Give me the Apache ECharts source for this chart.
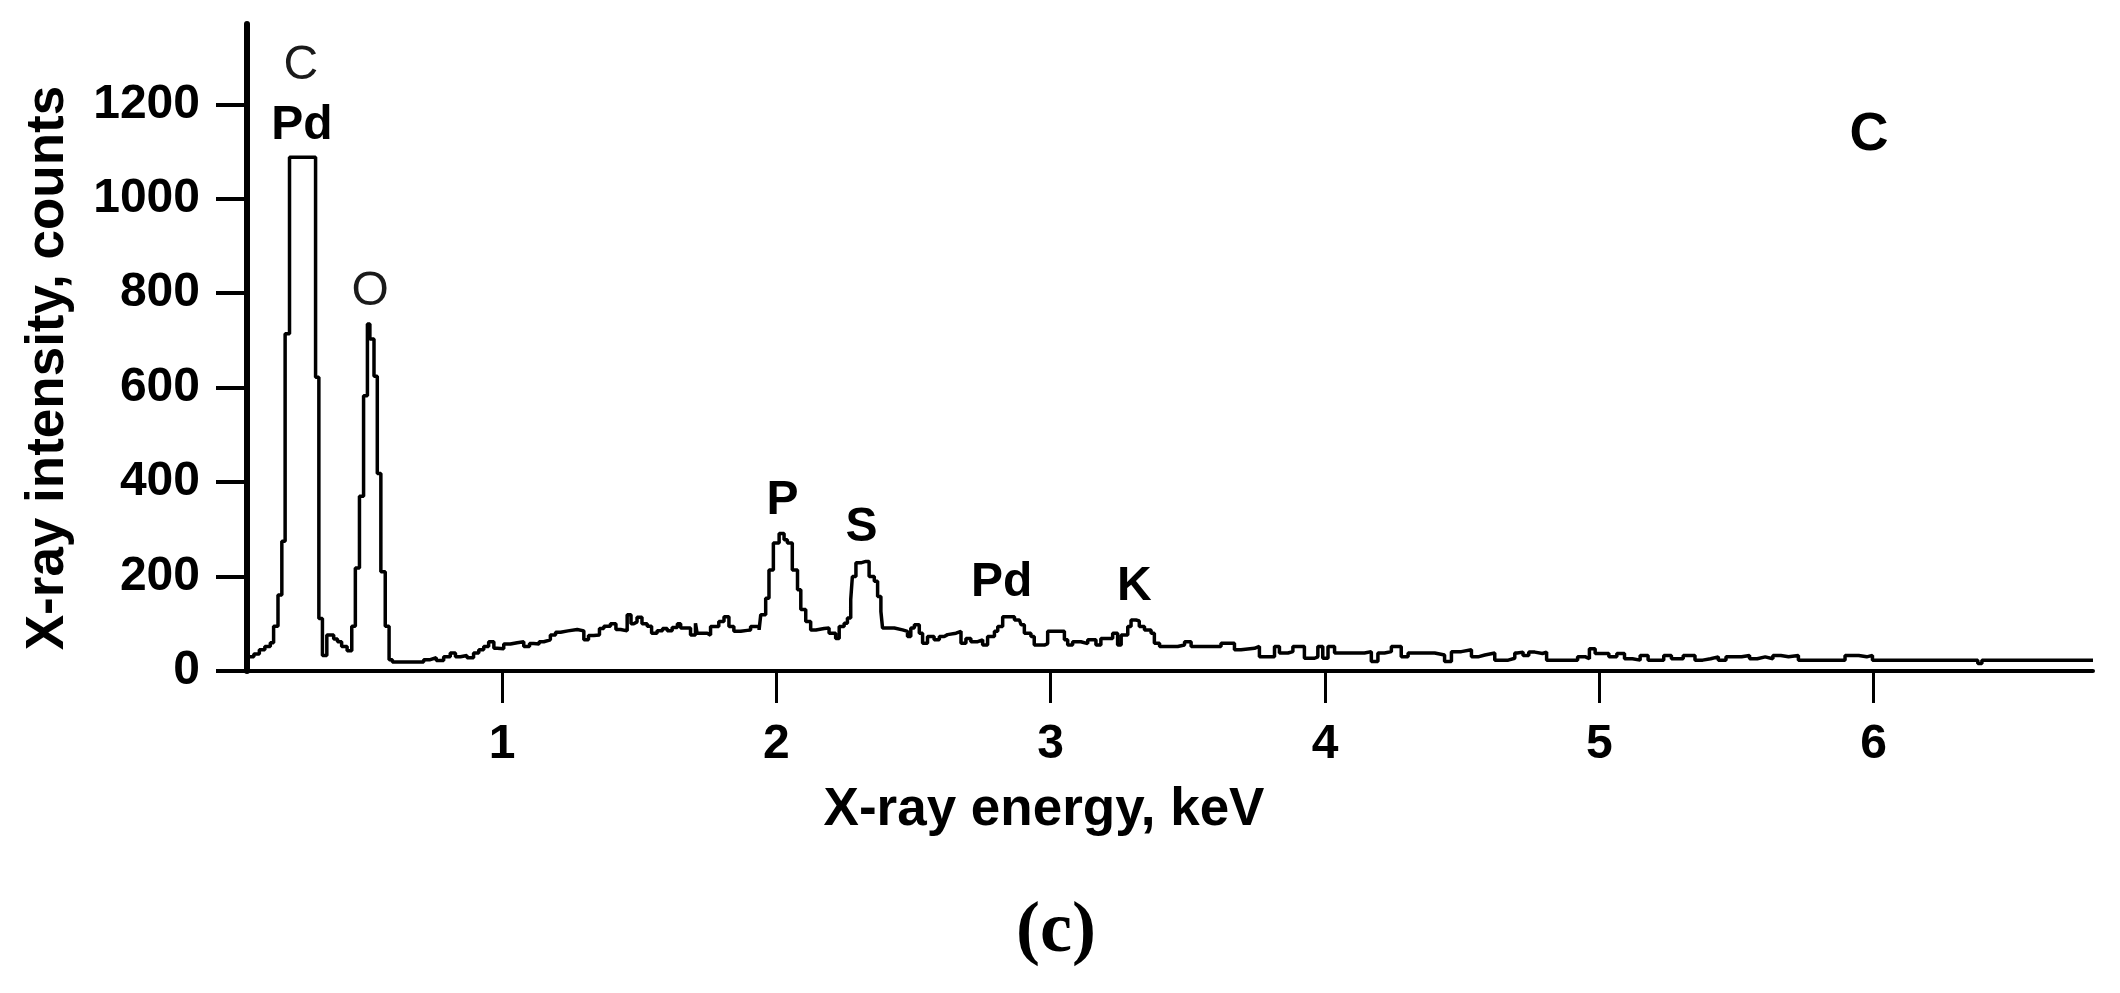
<!DOCTYPE html>
<html>
<head>
    <meta charset="utf-8">
    <script src="https://cdn.jsdelivr.net/npm/echarts@6.0.0/dist/echarts.min.js"></script>
    <style>
        html, body { margin: 0; padding: 0; background: #fff; }
    </style>
</head>
<body>
    <div id="main" style="width: 2120px; height: 993px"></div>
    <script type="text/javascript">
        // spectrum (left edge of each step, keV / counts)
        var energyKeV = [
            0.075, 0.095, 0.115, 0.135, 0.155, 0.167, 0.183, 0.197, 0.209, 0.225,
            0.320, 0.332, 0.345, 0.361, 0.386, 0.400, 0.415, 0.435, 0.452, 0.465,
            0.480, 0.495, 0.509, 0.518, 0.533, 0.545, 0.558, 0.574, 0.588, 0.600,
            0.714, 0.738, 0.760, 0.787, 0.811, 0.830, 0.848, 0.872, 0.896, 0.915,
            0.933, 0.951, 0.970, 0.982, 1.006, 1.030, 1.055, 1.079, 1.100, 1.115,
            1.135, 1.152, 1.176, 1.195, 1.213, 1.240, 1.274, 1.298, 1.315, 1.334,
            1.355, 1.371, 1.395, 1.415, 1.432, 1.456, 1.470, 1.480, 1.492, 1.510,
            1.529, 1.545, 1.565, 1.585, 1.602, 1.620, 1.639, 1.651, 1.675, 1.687,
            1.705, 1.711, 1.748, 1.760, 1.790, 1.809, 1.827, 1.845, 1.870, 1.894,
            1.906, 1.937, 1.943, 1.961, 1.973, 1.989, 2.010, 2.028, 2.040, 2.058,
            2.077, 2.089, 2.107, 2.125, 2.144, 2.174, 2.192, 2.216, 2.229, 2.247,
            2.259, 2.271, 2.277, 2.290, 2.308, 2.326, 2.338, 2.357, 2.369, 2.381,
            2.387, 2.430, 2.460, 2.478, 2.490, 2.503, 2.521, 2.533, 2.551, 2.575,
            2.594, 2.612, 2.624, 2.655, 2.673, 2.691, 2.709, 2.734, 2.752, 2.770,
            2.795, 2.807, 2.825, 2.849, 2.868, 2.886, 2.892, 2.904, 2.928, 2.940,
            2.977, 2.989, 3.032, 3.050, 3.062, 3.080, 3.110, 3.135, 3.165, 3.183,
            3.208, 3.226, 3.244, 3.257, 3.281, 3.293, 3.311, 3.323, 3.342, 3.366,
            3.378, 3.397, 3.463, 3.488, 3.512, 3.603, 3.621, 3.670, 3.694, 3.743,
            3.761, 3.792, 3.816, 3.834, 3.865, 3.883, 3.925, 3.962, 3.974, 3.992,
            4.011, 4.035, 4.108, 4.144, 4.169, 4.193, 4.217, 4.242, 4.278, 4.303,
            4.400, 4.436, 4.461, 4.497, 4.534, 4.558, 4.583, 4.619, 4.668, 4.692,
            4.701, 4.722, 4.743, 4.765, 4.793, 4.808, 4.921, 4.950, 4.964, 4.985,
            5.035, 5.064, 5.092, 5.121, 5.149, 5.178, 5.235, 5.263, 5.306, 5.349,
            5.377, 5.406, 5.434, 5.462, 5.519, 5.548, 5.576, 5.605, 5.633, 5.662,
            5.690, 5.726, 5.896, 5.946, 5.975, 5.996, 6.380, 6.395, 6.800
        ];
        var counts = [
            30, 36, 45, 52, 60, 95, 161, 275, 714, 1088,
            622, 111, 33, 76, 68, 62, 52, 43, 95, 218,
            370, 583, 735, 703, 624, 418, 210, 95, 24, 19,
            24, 28, 22, 30, 38, 30, 33, 28, 38, 45,
            52, 62, 48, 47, 57, 60, 62, 52, 58, 57,
            62, 66, 76, 82, 85, 88, 85, 66, 75, 76,
            90, 95, 100, 88, 85, 119, 100, 104, 114, 100,
            95, 80, 85, 90, 85, 92, 100, 91, 91, 76,
            101, 80, 76, 94, 105, 115, 94, 84, 86, 87,
            94, 87, 119, 154, 214, 271, 291, 278, 271, 214,
            172, 130, 105, 87, 90, 91, 80, 69, 94, 101,
            112, 151, 200, 229, 232, 232, 200, 190, 158, 126,
            91, 87, 84, 73, 91, 98, 80, 59, 73, 66,
            73, 77, 80, 84, 59, 69, 62, 66, 55, 73,
            84, 94, 115, 115, 108, 108, 98, 80, 73, 55,
            58, 84, 84, 66, 55, 62, 58, 66, 55, 69,
            69, 80, 55, 76, 94, 108, 106, 94, 87, 80,
            59, 52, 55, 62, 52, 52, 59, 45, 48, 52,
            30, 30, 52, 38, 41, 52, 27, 30, 52, 27,
            52, 38, 38, 41, 20, 38, 41, 52, 30, 38,
            34, 20, 41, 45, 30, 34, 38, 23, 27, 38,
            40, 33, 40, 37, 40, 23, 30, 26, 47, 37,
            30, 37, 26, 23, 33, 23, 33, 26, 33, 23,
            26, 30, 23, 30, 33, 26, 30, 26, 33, 30,
            33, 23, 33, 30, 33, 23, 16, 23, 23
        ];

        // element labels over the peaks
        var peakNames = ['C', 'Pd', 'O', 'P', 'S', 'Pd', 'K'];
        var peakKeV = [0.266, 0.270, 0.519, 2.022, 2.310, 2.821, 3.305];
        var peakCounts = [1281, 1155, 804, 360, 303, 186, 179];
        var peakBold = [false, true, false, true, true, true, true];

        var xTicks = [1, 2, 3, 4, 5, 6];
        var yTicks = [0, 200, 400, 600, 800, 1000, 1200];

        var spectrum = [];
        for (var i = 0; i < energyKeV.length; i++) {
            spectrum.push([energyKeV[i], counts[i]]);
        }

        var peaks = [];
        for (var j = 0; j < peakNames.length; j++) {
            peaks.push({
                name: peakNames[j],
                value: [peakKeV[j], peakCounts[j]],
                label: {
                    fontWeight: peakBold[j] ? 'bold' : 'normal',
                    color: peakBold[j] ? '#000' : '#1a1a1a'
                }
            });
        }

        var font = '"Liberation Sans", Arial, sans-serif';

        var myChart = echarts.init(document.getElementById('main'), null, {renderer: 'canvas'});
        var option = {
            animation: false,
            backgroundColor: '#fff',
            grid: {
                left: 247,
                right: 27,
                top: 24,
                bottom: 322
            },
            xAxis: {
                type: 'value',
                min: 0.07,
                max: 6.8,
                axisLine: { lineStyle: { color: '#000', width: 4 } },
                axisTick: {
                    customValues: xTicks,
                    length: 32,
                    lineStyle: { color: '#000', width: 3 }
                },
                axisLabel: {
                    customValues: xTicks,
                    margin: 50,
                    color: '#000',
                    fontFamily: font,
                    fontWeight: 'bold',
                    fontSize: 48,
                    formatter: function (v) { return String(v); }
                },
                splitLine: { show: false }
            },
            yAxis: {
                type: 'value',
                min: 0,
                max: 1370,
                axisLine: { show: true, lineStyle: { color: '#000', width: 6 } },
                axisTick: {
                    show: true,
                    customValues: yTicks,
                    length: 31,
                    lineStyle: { color: '#000', width: 4 }
                },
                axisLabel: {
                    customValues: yTicks,
                    margin: 47,
                    color: '#000',
                    fontFamily: font,
                    fontWeight: 'bold',
                    fontSize: 48,
                    formatter: function (v) { return String(v); }
                },
                splitLine: { show: false }
            },
            series: [
                {
                    name: 'spectrum',
                    type: 'line',
                    step: 'end',
                    symbol: 'none',
                    lineStyle: { color: '#000', width: 3.5 },
                    data: spectrum
                },
                {
                    name: 'peaks',
                    type: 'scatter',
                    symbolSize: 1,
                    itemStyle: { color: 'rgba(0,0,0,0)', opacity: 1 },
                    label: {
                        show: true,
                        position: 'inside',
                        formatter: '{b}',
                        color: '#000',
                        fontFamily: font,
                        fontSize: 48
                    },
                    data: peaks
                }
            ],
            graphic: [
                {
                    type: 'text',
                    x: 48, y: 368,
                    rotation: Math.PI / 2,
                    style: {
                        text: 'X-ray intensity, counts',
                        font: 'bold 53px ' + font,
                        fill: '#000',
                        align: 'center',
                        verticalAlign: 'middle'
                    }
                },
                {
                    type: 'text',
                    x: 1044, y: 810,
                    style: {
                        text: 'X-ray energy, keV',
                        font: 'bold 53px ' + font,
                        fill: '#000',
                        align: 'center',
                        verticalAlign: 'middle'
                    }
                },
                {
                    type: 'text',
                    x: 1056, y: 932,
                    style: {
                        text: '(c)',
                        font: 'bold 72px "Liberation Serif", serif',
                        fill: '#000',
                        align: 'center',
                        verticalAlign: 'middle'
                    }
                },
                {
                    type: 'text',
                    x: 1869, y: 135,
                    style: {
                        text: 'C',
                        font: 'bold 54px ' + font,
                        fill: '#000',
                        align: 'center',
                        verticalAlign: 'middle'
                    }
                }
            ]
        };
        myChart.setOption(option);
    </script>
</body>
</html>
